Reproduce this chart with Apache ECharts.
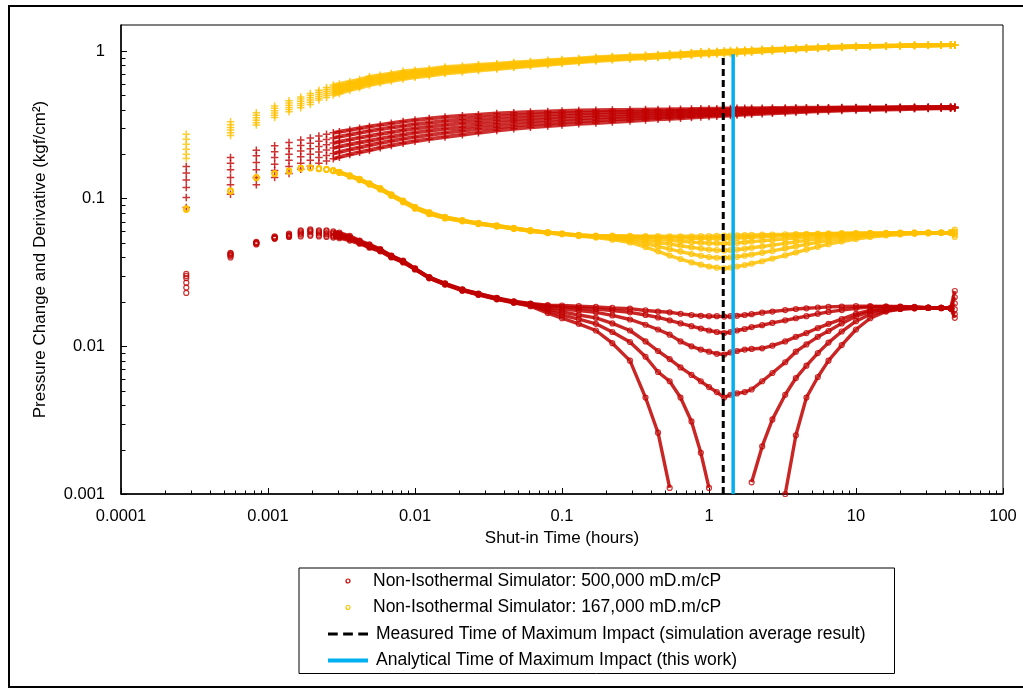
<!DOCTYPE html>
<html>
<head>
<meta charset="utf-8">
<title>Pressure Change and Derivative</title>
<script src="https://cdn.jsdelivr.net/npm/echarts@6/dist/echarts.min.js"></script>
<style>
  html, body { margin: 0; padding: 0; background: #fff; }
  #chart { width: 1023px; height: 689px; }
</style>
</head>
<body>
<div id="chart"></div>
<script>
// Shut-in time samples (hours)
const TIME_H = [0.000278, 0.000556, 0.000833, 0.00111, 0.00139, 0.00167, 0.00194, 0.00222, 0.0025, 0.00278,
  0.00306, 0.0036, 0.0042, 0.0049, 0.0058, 0.0069, 0.0083, 0.010, 0.0125, 0.016,
  0.021, 0.027, 0.036, 0.047, 0.061, 0.08, 0.10, 0.13, 0.17, 0.22,
  0.29, 0.37, 0.45, 0.54, 0.64, 0.76, 0.88, 1.0, 1.13, 1.27,
  1.4, 1.55, 1.75, 1.95, 2.3, 2.7, 3.3, 3.9, 4.6, 5.5,
  6.5, 8, 10, 12.5, 16, 20, 25, 31, 38, 44,
  47];

// 500,000 mD.m/cP : pressure derivative (kgf/cm²), six runs
const RED_DERIV_A = [0.031, 0.043, 0.051, 0.0555, 0.058, 0.061, 0.062, 0.061, 0.061, 0.060,
  0.059, 0.056, 0.052, 0.049, 0.0455, 0.0412, 0.0380, 0.0337, 0.0294, 0.0267,
  0.0243, 0.0228, 0.0213, 0.0202, 0.0195, 0.0190, 0.0189, 0.0187, 0.0185, 0.0182,
  0.0180, 0.0175, 0.0172, 0.0170, 0.0166, 0.0163, 0.0161, 0.0160, 0.0160, 0.0159,
  0.0160, 0.0161, 0.0163, 0.0165, 0.0169, 0.0172, 0.0176, 0.0179, 0.0181, 0.0183,
  0.0185, 0.0186, 0.0187, 0.0187, 0.0186, 0.0185, 0.0184, 0.0182, 0.0181, 0.0181,
  0.0237];
const RED_DERIV_B = [0.030, 0.0425, 0.0505, 0.055, 0.057, 0.060, 0.061, 0.060, 0.060, 0.059,
  0.058, 0.055, 0.0515, 0.0485, 0.0452, 0.0410, 0.0378, 0.0336, 0.0293, 0.0266,
  0.0242, 0.0227, 0.0212, 0.0201, 0.0194, 0.0188, 0.0185, 0.0182, 0.0179, 0.0175,
  0.0170, 0.0163, 0.0157, 0.0150, 0.0143, 0.0137, 0.0132, 0.0128, 0.0125, 0.0123,
  0.0125, 0.0128, 0.0131, 0.0135, 0.0139, 0.0144, 0.0150, 0.0155, 0.0160, 0.0166,
  0.0171, 0.0176, 0.0181, 0.0185, 0.0186, 0.0186, 0.0185, 0.0183, 0.0182, 0.0181,
  0.0215];
const RED_DERIV_C = [0.029, 0.042, 0.050, 0.0545, 0.0565, 0.059, 0.060, 0.059, 0.0585, 0.058,
  0.057, 0.0545, 0.051, 0.048, 0.0450, 0.0408, 0.0376, 0.0335, 0.0292, 0.0265,
  0.0241, 0.0226, 0.0211, 0.0200, 0.0193, 0.0184, 0.0179, 0.0175, 0.0170, 0.0162,
  0.0152, 0.0140, 0.0130, 0.0120, 0.0108, 0.0100, 0.0095, 0.0092, 0.0089, 0.0088,
  0.0091, 0.0093, 0.0095, 0.0096, 0.0097, 0.0101, 0.0108, 0.0116, 0.0123, 0.0133,
  0.0142, 0.0153, 0.0166, 0.0176, 0.0181, 0.0183, 0.0184, 0.0183, 0.0182, 0.0181,
  0.0195];
const RED_DERIV_D = [0.027, 0.0415, 0.050, 0.054, 0.056, 0.058, 0.059, 0.058, 0.0575, 0.0565,
  0.056, 0.0535, 0.0505, 0.0475, 0.0447, 0.0406, 0.0374, 0.0334, 0.0291, 0.0264,
  0.0240, 0.0225, 0.0210, 0.0199, 0.0191, 0.0179, 0.0171, 0.0163, 0.0156, 0.0143,
  0.0128, 0.0108, 0.0093, 0.0082, 0.0072, 0.0064, 0.0058, 0.0053, 0.0049, 0.0045,
  0.0047, 0.0048, 0.0049, 0.0051, 0.0058, 0.0066, 0.0078, 0.0092, 0.0103, 0.0116,
  0.0127, 0.0143, 0.0160, 0.0172, 0.0178, 0.0180, 0.0182, 0.0182, 0.0182, 0.0181,
  0.0178];
const RED_DERIV_E = [0.025, 0.041, 0.0495, 0.054, 0.0555, 0.057, 0.057, 0.0565, 0.056, 0.0555,
  0.055, 0.053, 0.050, 0.047, 0.0443, 0.0403, 0.0372, 0.0333, 0.0290, 0.0263,
  0.0239, 0.0224, 0.0209, 0.0198, 0.0189, 0.0174, 0.0163, 0.0153, 0.0142, 0.0125,
  0.0107, 0.0085, 0.0067, 0.0058, 0.0045, 0.0031, 0.0019, 0.0011, null, null,
  null, null, null, 0.0012, 0.0021, 0.0032, 0.0047, 0.0061, 0.0074, 0.0090,
  0.0106, 0.0126, 0.0148, 0.0165, 0.0174, 0.0179, 0.0181, 0.0182, 0.0182, 0.0181,
  0.0165];
const RED_DERIV_F = [0.023, 0.040, 0.049, 0.0535, 0.055, 0.0555, 0.056, 0.0555, 0.055, 0.0545,
  0.054, 0.052, 0.0495, 0.0465, 0.0440, 0.0400, 0.0370, 0.0332, 0.0289, 0.0262,
  0.0238, 0.0223, 0.0208, 0.0197, 0.0187, 0.0168, 0.0155, 0.0142, 0.0128, 0.0105,
  0.0080, 0.0045, 0.0026, 0.0011, null, null, null, null, null, null,
  null, null, null, null, null, null, 0.0010, 0.0025, 0.0045, 0.0062,
  0.0080, 0.0102, 0.0130, 0.0155, 0.0172, 0.0179, 0.0181, 0.0182, 0.0182, 0.0181,
  0.0156];

// 167,000 mD.m/cP : pressure derivative (kgf/cm²), six runs
const YEL_DERIV_A = [0.086, 0.114, 0.140, 0.149, 0.155, 0.162, 0.163, 0.161, 0.159, 0.156,
  0.152, 0.144, 0.136, 0.127, 0.118, 0.107, 0.097, 0.088, 0.081, 0.0752,
  0.0715, 0.0685, 0.066, 0.0634, 0.0612, 0.0593, 0.058, 0.0568, 0.0562, 0.0562,
  0.0560, 0.0558, 0.0557, 0.0556, 0.0556, 0.0556, 0.0557, 0.0558, 0.0560, 0.0562,
  0.0563, 0.0565, 0.0567, 0.0568, 0.0570, 0.0572, 0.0574, 0.0576, 0.0578, 0.0580,
  0.0582, 0.0584, 0.0585, 0.0586, 0.0587, 0.0588, 0.0589, 0.0589, 0.0589, 0.0589,
  0.0617];
const YEL_DERIV_B = [0.0855, 0.1135, 0.1395, 0.1485, 0.1545, 0.1615, 0.1625, 0.1605, 0.1585, 0.1555,
  0.1515, 0.1435, 0.1355, 0.1265, 0.1175, 0.1065, 0.0965, 0.0875, 0.0805, 0.0748,
  0.0712, 0.0682, 0.0657, 0.0632, 0.061, 0.0591, 0.0579, 0.0567, 0.0560, 0.0558,
  0.0555, 0.0552, 0.0548, 0.0545, 0.0542, 0.0540, 0.0538, 0.0537, 0.0537, 0.0538,
  0.0540, 0.0542, 0.0545, 0.0548, 0.0552, 0.0556, 0.0561, 0.0565, 0.0569, 0.0573,
  0.0576, 0.0579, 0.0582, 0.0584, 0.0585, 0.0587, 0.0588, 0.0589, 0.0589, 0.0589,
  0.0600];
const YEL_DERIV_C = [0.085, 0.113, 0.139, 0.148, 0.154, 0.161, 0.162, 0.160, 0.158, 0.155,
  0.151, 0.143, 0.135, 0.126, 0.117, 0.106, 0.096, 0.087, 0.080, 0.0745,
  0.071, 0.068, 0.0655, 0.063, 0.0608, 0.059, 0.0578, 0.0565, 0.0557, 0.0552,
  0.0546, 0.0538, 0.0530, 0.0522, 0.0515, 0.0508, 0.0503, 0.0500, 0.0498, 0.0497,
  0.0499, 0.0502, 0.0507, 0.0512, 0.0518, 0.0525, 0.0534, 0.0541, 0.0549, 0.0556,
  0.0563, 0.0569, 0.0575, 0.0579, 0.0582, 0.0585, 0.0587, 0.0588, 0.0588, 0.0589,
  0.0590];
const YEL_DERIV_D = [0.0848, 0.1125, 0.1385, 0.1475, 0.1535, 0.1605, 0.1615, 0.1595, 0.1575, 0.1545,
  0.1505, 0.1425, 0.1345, 0.1255, 0.1165, 0.1055, 0.0955, 0.0865, 0.0795, 0.0742,
  0.0708, 0.0678, 0.0653, 0.0628, 0.0606, 0.0588, 0.0577, 0.0563, 0.0553, 0.0545,
  0.0535, 0.0520, 0.0505, 0.0492, 0.0480, 0.0468, 0.0459, 0.0452, 0.0448, 0.0446,
  0.0449, 0.0452, 0.0458, 0.0465, 0.0474, 0.0485, 0.0498, 0.0510, 0.0522, 0.0534,
  0.0545, 0.0555, 0.0565, 0.0572, 0.0578, 0.0582, 0.0585, 0.0587, 0.0588, 0.0588,
  0.0580];
const YEL_DERIV_E = [0.0845, 0.112, 0.138, 0.147, 0.153, 0.160, 0.161, 0.159, 0.157, 0.154,
  0.150, 0.142, 0.134, 0.125, 0.116, 0.105, 0.095, 0.086, 0.079, 0.0738,
  0.0705, 0.0675, 0.065, 0.0626, 0.0604, 0.0586, 0.0576, 0.0561, 0.0550, 0.0538,
  0.0520, 0.0497, 0.0475, 0.0455, 0.0438, 0.0422, 0.0410, 0.0402, 0.0398, 0.0397,
  0.0400, 0.0404, 0.0411, 0.0418, 0.0430, 0.0443, 0.0460, 0.0475, 0.0490, 0.0506,
  0.0521, 0.0537, 0.0551, 0.0563, 0.0572, 0.0578, 0.0582, 0.0585, 0.0587, 0.0588,
  0.0565];
const YEL_DERIV_F = [0.084, 0.1115, 0.1375, 0.1465, 0.1525, 0.1595, 0.1605, 0.1585, 0.1565, 0.1535,
  0.1495, 0.1415, 0.1335, 0.1245, 0.1155, 0.1045, 0.0945, 0.0855, 0.0785, 0.0735,
  0.0702, 0.0672, 0.0647, 0.0624, 0.0602, 0.0584, 0.0575, 0.0558, 0.0545, 0.0528,
  0.0505, 0.0470, 0.0440, 0.0412, 0.0390, 0.0370, 0.0357, 0.0347, 0.0341, 0.0338,
  0.0342, 0.0347, 0.0355, 0.0363, 0.0377, 0.0393, 0.0413, 0.0432, 0.0452, 0.0472,
  0.0492, 0.0513, 0.0533, 0.0550, 0.0563, 0.0572, 0.0578, 0.0582, 0.0585, 0.0587,
  0.0550];

// 500,000 mD.m/cP : pressure change (kgf/cm²), six runs
const RED_DP_A = [0.165, 0.190, 0.213, 0.228, 0.240, 0.250, 0.258, 0.266, 0.273, 0.279,
  0.284, 0.292, 0.300, 0.308, 0.316, 0.324, 0.333, 0.341, 0.349, 0.357,
  0.364, 0.370, 0.377, 0.382, 0.386, 0.390, 0.393, 0.395, 0.397, 0.399,
  0.400, 0.401, 0.402, 0.403, 0.404, 0.405, 0.406, 0.407, 0.407, 0.408,
  0.408, 0.409, 0.409, 0.410, 0.410, 0.411, 0.411, 0.412, 0.412, 0.413,
  0.413, 0.414, 0.414, 0.415, 0.415, 0.416, 0.416, 0.417, 0.417, 0.418,
  0.418];
const RED_DP_B = [0.149, 0.174, 0.195, 0.208, 0.219, 0.229, 0.237, 0.245, 0.252, 0.258,
  0.263, 0.271, 0.279, 0.287, 0.295, 0.303, 0.311, 0.319, 0.327, 0.336,
  0.344, 0.351, 0.358, 0.364, 0.369, 0.374, 0.378, 0.381, 0.383, 0.386,
  0.387, 0.389, 0.391, 0.392, 0.393, 0.395, 0.396, 0.398, 0.398, 0.399,
  0.400, 0.401, 0.401, 0.403, 0.404, 0.405, 0.406, 0.407, 0.408, 0.409,
  0.410, 0.411, 0.412, 0.413, 0.413, 0.414, 0.415, 0.415, 0.416, 0.416,
  0.416];
const RED_DP_C = [0.134, 0.157, 0.176, 0.190, 0.200, 0.210, 0.218, 0.226, 0.232, 0.238,
  0.243, 0.251, 0.259, 0.266, 0.274, 0.282, 0.291, 0.299, 0.307, 0.316,
  0.324, 0.332, 0.340, 0.347, 0.352, 0.358, 0.362, 0.366, 0.369, 0.372,
  0.374, 0.377, 0.379, 0.381, 0.383, 0.385, 0.386, 0.388, 0.389, 0.390,
  0.391, 0.393, 0.394, 0.395, 0.397, 0.399, 0.400, 0.402, 0.404, 0.406,
  0.407, 0.409, 0.410, 0.411, 0.412, 0.413, 0.414, 0.414, 0.415, 0.415,
  0.415];
const RED_DP_D = [0.119, 0.139, 0.157, 0.171, 0.182, 0.192, 0.200, 0.207, 0.214, 0.220,
  0.225, 0.233, 0.240, 0.247, 0.255, 0.263, 0.271, 0.280, 0.288, 0.297,
  0.305, 0.314, 0.322, 0.330, 0.336, 0.342, 0.347, 0.351, 0.355, 0.358,
  0.362, 0.365, 0.368, 0.370, 0.372, 0.374, 0.376, 0.378, 0.380, 0.382,
  0.383, 0.385, 0.386, 0.388, 0.390, 0.392, 0.394, 0.397, 0.399, 0.401,
  0.403, 0.405, 0.407, 0.408, 0.410, 0.411, 0.412, 0.413, 0.414, 0.414,
  0.414];
const RED_DP_E = [0.102, 0.124, 0.139, 0.155, 0.165, 0.174, 0.182, 0.190, 0.196, 0.202,
  0.207, 0.215, 0.222, 0.230, 0.238, 0.246, 0.254, 0.262, 0.270, 0.279,
  0.288, 0.297, 0.305, 0.313, 0.320, 0.326, 0.331, 0.336, 0.340, 0.345,
  0.349, 0.353, 0.356, 0.359, 0.361, 0.364, 0.367, 0.369, 0.371, 0.373,
  0.374, 0.376, 0.378, 0.380, 0.383, 0.385, 0.388, 0.391, 0.393, 0.396,
  0.398, 0.400, 0.402, 0.404, 0.406, 0.408, 0.409, 0.411, 0.412, 0.413,
  0.413];
const RED_DP_F = [0.087, 0.107, 0.124, 0.139, 0.148, 0.158, 0.166, 0.174, 0.180, 0.186,
  0.191, 0.199, 0.206, 0.213, 0.221, 0.229, 0.237, 0.245, 0.253, 0.262,
  0.271, 0.280, 0.289, 0.297, 0.304, 0.311, 0.316, 0.321, 0.326, 0.331,
  0.336, 0.341, 0.345, 0.348, 0.351, 0.354, 0.357, 0.360, 0.362, 0.364,
  0.366, 0.368, 0.371, 0.373, 0.376, 0.379, 0.382, 0.385, 0.388, 0.391,
  0.393, 0.396, 0.398, 0.400, 0.402, 0.404, 0.406, 0.408, 0.409, 0.410,
  0.410];

// 167,000 mD.m/cP : pressure change (kgf/cm²), six runs
const YEL_DP_A = [0.273, 0.332, 0.382, 0.424, 0.460, 0.489, 0.516, 0.543, 0.566, 0.588,
  0.598, 0.619, 0.640, 0.669, 0.685, 0.705, 0.728, 0.741, 0.756, 0.778,
  0.792, 0.806, 0.821, 0.835, 0.849, 0.865, 0.876, 0.890, 0.906, 0.917,
  0.928, 0.937, 0.947, 0.957, 0.966, 0.978, 0.988, 0.993, 0.998, 1.003,
  1.007, 1.010, 1.015, 1.019, 1.026, 1.033, 1.041, 1.048, 1.055, 1.062,
  1.068, 1.074, 1.079, 1.083, 1.087, 1.090, 1.093, 1.095, 1.097, 1.098,
  1.099];
const YEL_DP_B = [0.253, 0.317, 0.367, 0.409, 0.444, 0.473, 0.499, 0.526, 0.549, 0.570,
  0.580, 0.602, 0.624, 0.652, 0.669, 0.689, 0.711, 0.725, 0.740, 0.763,
  0.777, 0.792, 0.807, 0.822, 0.837, 0.853, 0.865, 0.879, 0.896, 0.908,
  0.919, 0.928, 0.938, 0.948, 0.957, 0.969, 0.979, 0.984, 0.989, 0.994,
  0.998, 1.001, 1.007, 1.011, 1.019, 1.026, 1.035, 1.042, 1.050, 1.057,
  1.064, 1.070, 1.076, 1.080, 1.085, 1.088, 1.092, 1.094, 1.096, 1.098,
  1.098];
const YEL_DP_C = [0.234, 0.303, 0.353, 0.394, 0.429, 0.457, 0.482, 0.509, 0.532, 0.552,
  0.563, 0.587, 0.608, 0.635, 0.653, 0.673, 0.694, 0.709, 0.725, 0.748,
  0.763, 0.778, 0.794, 0.810, 0.825, 0.842, 0.854, 0.869, 0.885, 0.898,
  0.910, 0.919, 0.929, 0.939, 0.948, 0.960, 0.970, 0.975, 0.980, 0.985,
  0.989, 0.993, 0.999, 1.004, 1.012, 1.020, 1.029, 1.037, 1.045, 1.053,
  1.060, 1.067, 1.073, 1.078, 1.083, 1.087, 1.091, 1.093, 1.096, 1.097,
  1.098];
const YEL_DP_D = [0.216, 0.292, 0.340, 0.380, 0.414, 0.441, 0.465, 0.493, 0.515, 0.535,
  0.547, 0.572, 0.593, 0.619, 0.637, 0.657, 0.678, 0.693, 0.710, 0.733,
  0.749, 0.764, 0.781, 0.797, 0.813, 0.830, 0.843, 0.858, 0.875, 0.889,
  0.901, 0.910, 0.920, 0.930, 0.939, 0.951, 0.961, 0.966, 0.971, 0.976,
  0.980, 0.984, 0.991, 0.996, 1.005, 1.013, 1.023, 1.031, 1.040, 1.048,
  1.056, 1.063, 1.070, 1.075, 1.081, 1.085, 1.090, 1.093, 1.095, 1.097,
  1.098];
const YEL_DP_E = [0.200, 0.280, 0.327, 0.367, 0.401, 0.427, 0.450, 0.479, 0.500, 0.519,
  0.531, 0.557, 0.578, 0.603, 0.622, 0.642, 0.662, 0.678, 0.695, 0.719,
  0.735, 0.751, 0.768, 0.785, 0.801, 0.819, 0.832, 0.848, 0.865, 0.879,
  0.892, 0.902, 0.912, 0.922, 0.931, 0.942, 0.952, 0.957, 0.962, 0.967,
  0.971, 0.975, 0.983, 0.989, 0.998, 1.007, 1.017, 1.026, 1.035, 1.044,
  1.052, 1.060, 1.067, 1.073, 1.079, 1.084, 1.089, 1.092, 1.095, 1.097,
  1.097];
const YEL_DP_F = [0.187, 0.268, 0.315, 0.354, 0.388, 0.413, 0.435, 0.465, 0.485, 0.503,
  0.516, 0.543, 0.564, 0.588, 0.607, 0.627, 0.647, 0.663, 0.680, 0.705,
  0.722, 0.738, 0.755, 0.773, 0.790, 0.808, 0.822, 0.838, 0.855, 0.870,
  0.883, 0.893, 0.903, 0.913, 0.922, 0.933, 0.943, 0.948, 0.953, 0.958,
  0.962, 0.967, 0.975, 0.981, 0.991, 1.000, 1.011, 1.020, 1.030, 1.039,
  1.048, 1.056, 1.064, 1.070, 1.077, 1.082, 1.088, 1.091, 1.094, 1.096,
  1.097];

// Time of maximum impact markers: [hours, kgf/cm²]
const MEASURED_LINE = [[1.25, 0.001], [1.25, 0.93]];
const ANALYTICAL_LINE = [[1.46, 0.001], [1.46, 0.95]];

// Axis extents and tick labels
const X_RANGE = [0.0001, 100];
const Y_RANGE = [0.001, 1.5];
const X_TICK_LABELS = ['0.0001', '0.001', '0.01', '0.1', '1', '10', '100'];
const Y_TICK_LABELS = ['0.001', '0.01', '0.1', '1'];
const X_MINOR_TICKS = [0.0002, 0.0003, 0.0004, 0.0005, 0.0006, 0.0007, 0.0008, 0.0009,
  0.002, 0.003, 0.004, 0.005, 0.006, 0.007, 0.008, 0.009,
  0.02, 0.03, 0.04, 0.05, 0.06, 0.07, 0.08, 0.09,
  0.2, 0.3, 0.4, 0.5, 0.6, 0.7, 0.8, 0.9,
  2, 3, 4, 5, 6, 7, 8, 9,
  20, 30, 40, 50, 60, 70, 80, 90];
const Y_MINOR_TICKS = [0.002, 0.003, 0.004, 0.005, 0.006, 0.007, 0.008, 0.009,
  0.02, 0.03, 0.04, 0.05, 0.06, 0.07, 0.08, 0.09,
  0.2, 0.3, 0.4, 0.5, 0.6, 0.7, 0.8, 0.9];

const NAME_500 = 'Non-Isothermal Simulator: 500,000 mD.m/cP';
const NAME_167 = 'Non-Isothermal Simulator: 167,000 mD.m/cP';
const NAME_MEAS = 'Measured Time of Maximum Impact (simulation average result)';
const NAME_ANAL = 'Analytical Time of Maximum Impact (this work)';

const RED = '#C00000';
const YELLOW = '#FFC000';
const BLUE = '#00B0F0';
const FONT = "'Liberation Sans', Arial, Helvetica, sans-serif";
const PLUS = 'path://M2.8,0h1.4v2.8h2.8v1.4h-2.8v2.8h-1.4v-2.8h-2.8v-1.4h2.8z';
const JOIN_FROM = 9; // earliest samples are drawn as separate points only

function samplePoints(values) {
  const pts = [];
  values.forEach((v, i) => { if (v != null) pts.push([TIME_H[i], v]); });
  return pts;
}
function tracePoints(values) {
  const pts = [];
  for (let i = JOIN_FROM; i < TIME_H.length; i++) pts.push([TIME_H[i], values[i] == null ? null : values[i]]);
  return pts;
}

function derivSeries(name, color, values) {
  return [
    { type: 'line', name, data: tracePoints(values), symbol: 'none', silent: true,
      color, lineStyle: { color, width: 3.4, opacity: 0.85 }, z: 3 },
    { type: 'scatter', name, data: samplePoints(values), symbol: 'circle', symbolSize: 5, silent: true,
      itemStyle: { color: 'rgba(255,255,255,0)', borderColor: color, borderWidth: 1.2 }, z: 3 }
  ];
}
function pressureSeries(name, color, values) {
  return [
    { type: 'line', name, data: tracePoints(values), symbol: 'none', silent: true,
      color, lineStyle: { color, width: 4, opacity: 0.8 }, z: 2 },
    { type: 'scatter', name, data: samplePoints(values), symbol: PLUS, symbolSize: 7.5, silent: true,
      itemStyle: { color }, z: 2 }
  ];
}

const series = [];
[RED_DP_A, RED_DP_B, RED_DP_C, RED_DP_D, RED_DP_E, RED_DP_F]
  .forEach(v => series.push(...pressureSeries(NAME_500, RED, v)));
[YEL_DP_A, YEL_DP_B, YEL_DP_C, YEL_DP_D, YEL_DP_E, YEL_DP_F]
  .forEach(v => series.push(...pressureSeries(NAME_167, YELLOW, v)));
[RED_DERIV_A, RED_DERIV_B, RED_DERIV_C, RED_DERIV_D, RED_DERIV_E, RED_DERIV_F]
  .forEach(v => series.push(...derivSeries(NAME_500, RED, v)));
[YEL_DERIV_A, YEL_DERIV_B, YEL_DERIV_C, YEL_DERIV_D, YEL_DERIV_E, YEL_DERIV_F]
  .forEach(v => series.push(...derivSeries(NAME_167, YELLOW, v)));

series.push({
  type: 'line', name: NAME_MEAS, data: MEASURED_LINE, symbol: 'none', silent: true, color: '#000',
  lineStyle: { color: '#000', width: 3, type: [7, 4] }, z: 6
});
series.push({
  type: 'line', name: NAME_ANAL, data: ANALYTICAL_LINE, symbol: 'none', silent: true, color: BLUE,
  lineStyle: { color: BLUE, width: 3.5 }, z: 6
});

// Minor log ticks (2..9 in each decade), pointing into the plot
function tickLine(dx, dy) {
  return (params, api) => {
    const c = api.coord([api.value(0), api.value(1)]);
    const x = Math.round(c[0]) + 0.5, y = Math.round(c[1]) + 0.5;
    return { type: 'line', shape: { x1: x, y1: y, x2: x + dx, y2: y + dy },
      style: { stroke: '#000', lineWidth: 1 } };
  };
}
series.push({ type: 'custom', silent: true, clip: false, z: 7,
  data: X_MINOR_TICKS.map(v => [v, Y_RANGE[0]]), renderItem: tickLine(0, -4) });
series.push({ type: 'custom', silent: true, clip: false, z: 7,
  data: Y_MINOR_TICKS.map(v => [X_RANGE[0], v]), renderItem: tickLine(4, 0) });

function decadeLabel(labels, offset) {
  return v => {
    const e = Math.log10(v);
    const k = Math.round(e);
    if (Math.abs(e - k) > 1e-6) return '';
    return labels[k + offset] || '';
  };
}

const chart = echarts.init(document.getElementById('chart'), null, { renderer: 'canvas' });
chart.setOption({
  animation: false,
  backgroundColor: '#fff',
  textStyle: { fontFamily: FONT },
  graphic: [{
    type: 'rect', silent: true, z: 0,
    shape: { x: 9, y: 6, width: 1040, height: 681 },
    style: { fill: 'none', stroke: '#000', lineWidth: 2 }
  }],
  grid: { left: 121, right: 20, top: 25, bottom: 195, show: true, borderColor: '#000', borderWidth: 1,
    backgroundColor: 'rgba(0,0,0,0)' },
  xAxis: {
    type: 'log', logBase: 10, min: X_RANGE[0], max: X_RANGE[1],
    name: 'Shut-in Time (hours)', nameLocation: 'middle', nameGap: 36,
    nameTextStyle: { fontSize: 17, color: '#000', fontFamily: FONT },
    axisLine: { lineStyle: { color: '#000', width: 1.5 } },
    axisTick: { inside: true, length: 6, lineStyle: { color: '#000', width: 1 } },
    axisLabel: { fontSize: 16.5, color: '#000', margin: 14, fontFamily: FONT,
      formatter: decadeLabel(X_TICK_LABELS, 4) },
    splitLine: { show: false }, minorTick: { show: false }, minorSplitLine: { show: false }
  },
  yAxis: {
    type: 'log', logBase: 10, min: Y_RANGE[0], max: Y_RANGE[1],
    name: 'Pressure Change and Derivative (kgf/cm²)', nameLocation: 'middle', nameGap: 72, nameRotate: 90,
    nameTextStyle: { fontSize: 17, color: '#000', fontFamily: FONT },
    axisLine: { lineStyle: { color: '#000', width: 1.5 } },
    axisTick: { inside: true, length: 6, lineStyle: { color: '#000', width: 1 } },
    axisLabel: { fontSize: 16.5, color: '#000', margin: 16, fontFamily: FONT, showMaxLabel: false,
      formatter: decadeLabel(Y_TICK_LABELS, 3) },
    splitLine: { show: false }, minorTick: { show: false }, minorSplitLine: { show: false }
  },
  legend: {
    orient: 'vertical', left: 299, top: 568,
    itemWidth: 40, itemHeight: 4, itemGap: 6.5,
    padding: [3, 29, 3, 29],
    borderColor: '#000', borderWidth: 1, borderRadius: 0, backgroundColor: '#fff',
    selectedMode: false,
    textStyle: { fontSize: 17.5, color: '#000', fontFamily: FONT, lineHeight: 20 },
    data: [
      { name: NAME_500, icon: 'circle', itemStyle: { color: '#fff', borderColor: RED, borderWidth: 1.2 } },
      { name: NAME_167, icon: 'circle', itemStyle: { color: '#fff', borderColor: YELLOW, borderWidth: 1.2 } },
      { name: NAME_MEAS, icon: 'path://M0,0h9v3h-9zM14,0h9v3h-9zM28,0h9v3h-9z',
        itemStyle: { color: '#000', borderWidth: 0 }, textStyle: { padding: [0, 0, 0, 3] } },
      { name: NAME_ANAL, icon: 'path://M0,0h40v4h-40z',
        itemStyle: { color: BLUE, borderWidth: 0 }, textStyle: { padding: [0, 0, 0, 3] } }
    ]
  },
  series
});
</script>
</body>
</html>
